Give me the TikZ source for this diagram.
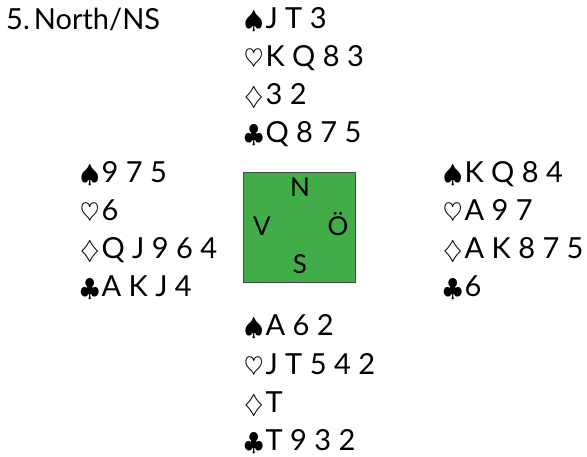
\documentclass[tikz,border=0pt]{standalone}
\usepackage{fontspec}
\setmainfont{Lato}
\definecolor{boxgreen}{HTML}{41AD49}
\definecolor{boxedge}{HTML}{4A4A4A}
\newcommand{\suitsym}[1]{{\fontsize{33}{36}\selectfont$#1$}\kern2pt}
\newcommand{\Sp}{\suitsym{\spadesuit}}
\newcommand{\Hs}{\suitsym{\heartsuit}}
\newcommand{\Di}{\suitsym{\diamondsuit}}
\newcommand{\Cl}{\suitsym{\clubsuit}}
\begin{document}
\begin{tikzpicture}[x=1pt,y=-1pt,
  row/.style={anchor=base west,inner sep=0pt,font=\fontsize{29}{34}\selectfont},
  dir/.style={anchor=center,inner sep=0pt,font=\fontsize{26}{30}\selectfont}]
\useasboundingbox (0,0) rectangle (587,457);
\node[row] (title) at (6,30) {5.\kern4pt North/NS};
% North
\node[row] (n1) at (244,29) {\Sp J T 3};
\node[row] (n2) at (244,67) {\Hs K Q 8 3};
\node[row] (n3) at (244,105) {\Di 3 2};
\node[row] (n4) at (244,143) {\Cl Q 8 7 5};
% West
\node[row] (w1) at (80,183) {\Sp 9 7 5};
\node[row] (w2) at (80,221) {\Hs 6};
\node[row] (w3) at (80,259) {\Di Q J 9 6 4};
\node[row] (w4) at (80,297) {\Cl A K J 4};
% East
\node[row] (e1) at (443,183) {\Sp K Q 8 4};
\node[row] (e2) at (443,221) {\Hs A 9 7};
\node[row] (e3) at (443,259) {\Di A K 8 7 5};
\node[row] (e4) at (443,297) {\Cl 6};
% South
\node[row] (s1) at (244,336) {\Sp A 6 2};
\node[row] (s2) at (244,374) {\Hs J T 5 4 2};
\node[row] (s3) at (244,412) {\Di T};
\node[row] (s4) at (244,450) {\Cl T 9 3 2};
% compass
\draw[fill=boxgreen,draw=boxedge,line width=0.8pt] (243.5,172.5) rectangle (355.5,282.5);
\node[dir] (cn) at (300,187) {N};
\node[dir] (cv) at (262,226) {V};
\node[dir] (co) at (338,224) {Ö};
\node[dir] (cs) at (300,264) {S};
\end{tikzpicture}
\end{document}
